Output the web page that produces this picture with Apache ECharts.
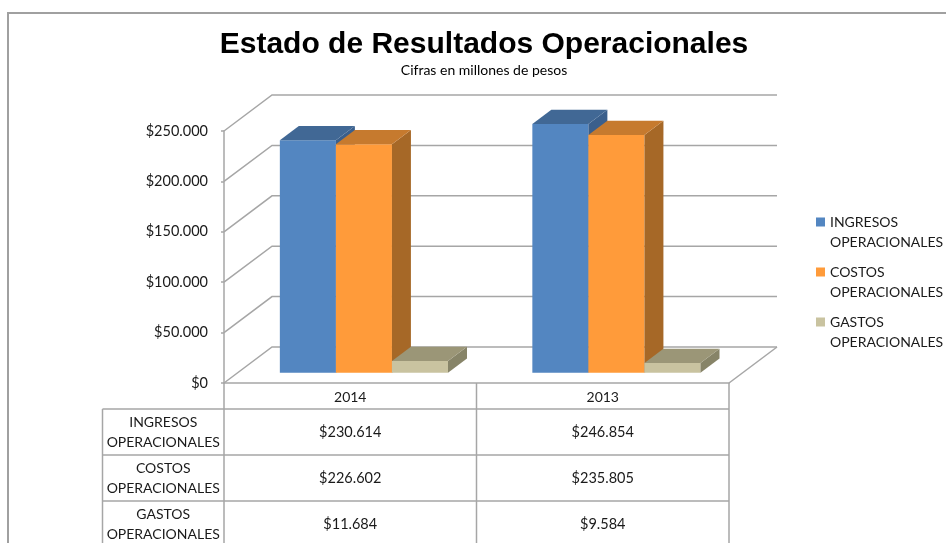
<!DOCTYPE html>
<html>
<head>
<meta charset="utf-8">
<script src="https://cdn.jsdelivr.net/npm/echarts@6/dist/echarts.min.js"></script>
<style>
html, body { margin: 0; padding: 0; background: #fff; }
#chart { width: 946px; height: 543px; }
</style>
</head>
<body>
<div id="chart"></div>
<script>
// datos del grafico
var anios = ['2014', '2013'];
var nombres = ['INGRESOS OPERACIONALES', 'COSTOS OPERACIONALES', 'GASTOS OPERACIONALES'];
var ingresos = [230614, 246854];
var costos = [226602, 235805];
var gastos = [11684, 9584];
var ticksY = [0, 50000, 100000, 150000, 200000, 250000];

var valores = [ingresos, costos, gastos];
var caras = [
	{ front: '#5386C1', top: '#416895', side: '#3A5F8C' },
	{ front: '#FF9B3A', top: '#C67A2E', side: '#A66827' },
	{ front: '#C9C3A0', top: '#9B9677', side: '#878468' }
];

var FONDO = [48, -36];   // profundidad total del piso (px)
var BARRA0 = 0.285;      // cara frontal de la barra, fraccion de la profundidad
var BARRA1 = 0.68;       // cara trasera
var ANCHO = 0.222;       // ancho de barra, fraccion de la banda
var GRIS = '#A6A6A6';
var TEXTO = '#1A1A1A';
var FUENTE = 'Lato';

function pesos(v) {
	return '$' + String(v).replace(/\B(?=(\d{3})+(?!\d))/g, '.');
}

// barra en 3D: cara frontal, lateral y superior
function barra3d(k) {
	return function(params, api) {
		var c = api.value(0);
		var tope = api.coord([c, api.value(1)]);
		var base = api.coord([c, 0]);
		var w = api.size([1, 0])[0] * ANCHO;
		var fx = FONDO[0] * BARRA0, fy = FONDO[1] * BARRA0;
		var dx = FONDO[0] * (BARRA1 - BARRA0), dy = FONDO[1] * (BARRA1 - BARRA0);
		var x0 = tope[0] - 1.5 * w + k * w + fx, x1 = x0 + w;
		var y0 = tope[1] + fy, y1 = base[1] + fy;
		return {
			type: 'group',
			children: [
				{ type: 'rect', shape: { x: x0, y: y0, width: w, height: y1 - y0 }, style: { fill: caras[k].front } },
				{ type: 'polygon', shape: { points: [[x1, y0], [x1 + dx, y0 + dy], [x1 + dx, y1 + dy], [x1, y1]] }, style: { fill: caras[k].side } },
				{ type: 'polygon', shape: { points: [[x0, y0], [x0 + dx, y0 + dy], [x1 + dx, y0 + dy], [x1, y0]] }, style: { fill: caras[k].top } }
			]
		};
	};
}

// lineas de la pared lateral y del fondo
function rejilla(params, api) {
	var v = api.value(1);
	var banda = api.size([1, 0])[0];
	var p = api.coord([0, v]);
	var xl = p[0] - banda / 2, xr = xl + banda * anios.length;
	var hijos = [{
		type: 'polyline',
		shape: { points: [[xl, p[1]], [xl + FONDO[0], p[1] + FONDO[1]], [xr + FONDO[0], p[1] + FONDO[1]]] },
		style: { stroke: GRIS, lineWidth: 1.5, fill: null }
	}];
	if (v === 0) {
		hijos.push({ type: 'line', shape: { x1: xr, y1: p[1], x2: xr + FONDO[0], y2: p[1] + FONDO[1] }, style: { stroke: GRIS, lineWidth: 1.5 } });
	}
	return { type: 'group', children: hijos };
}

// tabla de datos bajo el eje
function tabla(params, api) {
	var r = params.dataIndex;
	var banda = api.size([1, 0])[0];
	var base = api.coord([0, 0]);
	var xl = base[0] - banda / 2, xr = xl + banda * anios.length;
	var xc = xl - 121.5;
	var cab = base[1] + 26, alto = 46;
	var y0 = cab + r * alto, y1 = y0 + alto;
	var linea = { stroke: GRIS, lineWidth: 1.5 };
	var hijos = [
		{ type: 'line', shape: { x1: xc, y1: y0, x2: xr, y2: y0 }, style: linea },
		{ type: 'line', shape: { x1: xc, y1: y0, x2: xc, y2: y1 }, style: linea },
		{ type: 'text', style: { text: nombres[r].replace(' ', '\n'), x: (xc + xl) / 2, y: (y0 + y1) / 2, align: 'center', verticalAlign: 'middle', lineHeight: 20, fontSize: 14, fontFamily: FUENTE, fill: TEXTO } }
	];
	for (var c = 0; c <= anios.length; c++) {
		var x = xl + banda * c;
		hijos.push({ type: 'line', shape: { x1: x, y1: r === 0 ? base[1] : y0, x2: x, y2: y1 }, style: linea });
	}
	for (var c = 0; c < anios.length; c++) {
		hijos.push({ type: 'text', style: { text: pesos(valores[r][c]), x: api.coord([c, 0])[0], y: (y0 + y1) / 2, align: 'center', verticalAlign: 'middle', fontSize: 14.5, fontFamily: FUENTE, fill: TEXTO } });
	}
	return { type: 'group', children: hijos };
}

var chart = echarts.init(document.getElementById('chart'));

var series = [{
	type: 'custom',
	name: 'rejilla',
	renderItem: rejilla,
	data: ticksY.map(function(v) { return [0, v]; }),
	silent: true,
	z: 1
}];
nombres.forEach(function(n, k) {
	series.push({
		type: 'custom',
		name: n,
		renderItem: barra3d(k),
		itemStyle: { color: caras[k].front },
		data: valores[k].map(function(v, i) { return [i, v]; }),
		z: 2
	});
});
series.push({
	type: 'custom',
	name: 'tabla',
	renderItem: tabla,
	data: nombres.map(function() { return [0, 0]; }),
	silent: true,
	z: 3
});

var option = {
	animation: false,
	title: {
		text: 'Estado de Resultados Operacionales',
		subtext: 'Cifras en millones de pesos',
		left: 484,
		top: 30,
		padding: 0,
		itemGap: 3,
		textAlign: 'center',
		textStyle: { fontFamily: 'Liberation Sans', fontWeight: 'bold', fontSize: 30, color: '#000' },
		subtextStyle: { fontFamily: FUENTE, fontSize: 14, color: '#000' }
	},
	legend: {
		data: nombres,
		orient: 'vertical',
		left: 816,
		top: 212,
		padding: 0,
		itemWidth: 9,
		itemHeight: 29,
		itemGap: 10,
		// cuadrado arriba, alineado con la primera linea del texto
		icon: 'path://M0,0L9,0L9,9L0,9Z M0,29L0.01,29',
		formatter: function(n) { return n.replace(' ', '\n'); },
		textStyle: { fontFamily: FUENTE, fontSize: 14, color: TEXTO, lineHeight: 20 }
	},
	grid: { left: 224, top: 131, width: 505, height: 252, outerBoundsMode: 'none' },
	xAxis: {
		type: 'category',
		data: anios,
		axisLine: { lineStyle: { color: GRIS, width: 1.5 } },
		axisTick: { show: false },
		axisLabel: { margin: 7, fontSize: 14, fontFamily: FUENTE, color: TEXTO }
	},
	yAxis: {
		type: 'value',
		min: 0,
		max: 250000,
		interval: 50000,
		axisLine: { show: true, lineStyle: { color: GRIS, width: 1.5 } },
		axisTick: { show: true, length: 3, lineStyle: { color: GRIS, width: 1.5 } },
		axisLabel: { margin: 16, fontSize: 14.5, fontFamily: FUENTE, color: TEXTO, formatter: pesos },
		splitLine: { show: false }
	},
	graphic: [{
		type: 'polyline',
		shape: { points: [[8, 543], [8, 13], [946, 13]] },
		style: { stroke: '#A0A0A0', lineWidth: 2, fill: null },
		z: 10
	}],
	series: series
};

chart.setOption(option);
</script>
</body>
</html>
